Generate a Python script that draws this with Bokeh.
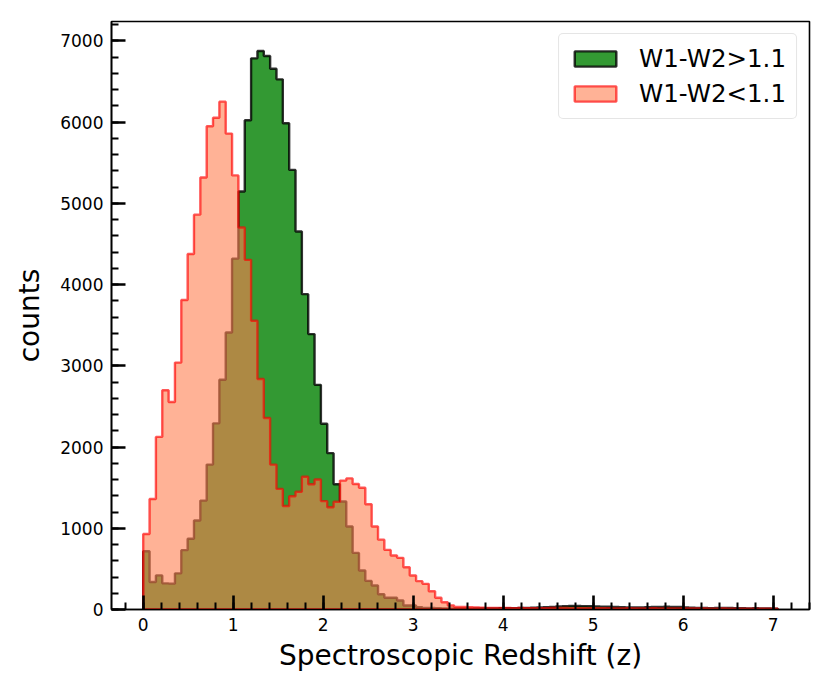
import numpy as np
from bokeh.plotting import figure
from bokeh.models import SingleIntervalTicker, Range1d, Legend
from bokeh.embed import file_html
from bokeh.resources import INLINE

# ---- data (histogram counts, 100 bins from z=0 to z=7.05) ----
z_min = 0.0
z_max = 7.05
n_bins = 100

counts_red = [  # W1-W2>1.1
    717, 338, 420, 322, 318, 445, 731, 871, 1096, 1341,
    1784, 2292, 2829, 3411, 4320, 5146, 6024, 6786, 6877, 6815,
    6659, 6528, 5987, 5413, 4654, 3883, 3391, 2766, 2288, 1925,
    1542, 1330, 1022, 697, 480, 352, 295, 188, 144, 144,
    111, 49, 49, 29, 20, 18, 15, 14, 12, 12,
    12, 11, 12, 12, 13, 14, 15, 16, 17, 18,
    20, 22, 24, 28, 32, 38, 42, 45, 44, 42,
    40, 38, 35, 33, 30, 28, 26, 25, 25, 27,
    30, 32, 33, 32, 30, 26, 22, 20, 18, 17,
    18, 20, 18, 16, 15, 14, 15, 14, 12, 10,
]

counts_blue = [  # W1-W2<1.1
    930, 1360, 2125, 2700, 2555, 3040, 3810, 4377, 4862, 5320,
    5950, 6055, 6253, 5860, 5345, 4703, 4305, 3555, 2838, 2358,
    1784, 1485, 1275, 1395, 1450, 1635, 1542, 1600, 1335, 1259,
    1327, 1587, 1614, 1546, 1500, 1296, 1022, 860, 734, 664,
    636, 520, 418, 349, 316, 225, 144, 90, 49, 32,
    30, 27, 24, 22, 20, 19, 18, 18, 17, 18,
    17, 16, 16, 17, 18, 19, 18, 17, 16, 16,
    15, 15, 16, 15, 14, 14, 15, 14, 13, 14,
    15, 14, 13, 12, 13, 12, 12, 13, 12, 11,
    11, 12, 11, 10, 11, 10, 10, 11, 10, 9,
]

label_red = "W1-W2>1.1"
label_blue = "W1-W2<1.1"
x_label = "Spectroscopic Redshift (z)"
y_label = "counts"

edges = np.linspace(z_min, z_max, n_bins + 1)


def step_polygon(edges, counts):
    xs = [edges[0]]
    ys = [0]
    for i, c in enumerate(counts):
        xs += [edges[i], edges[i + 1]]
        ys += [c, c]
    xs.append(edges[-1])
    ys.append(0)
    return xs, ys


FONT = "DejaVu Sans"

p = figure(
    width=822, height=684,
    output_backend="svg", toolbar_location=None,
    x_range=Range1d(-0.3525, 7.4025), y_range=Range1d(0, 7240),
    min_border_left=111, min_border_right=13,
    min_border_top=21, min_border_bottom=75,
)
p.background_fill_color = "white"
p.border_fill_color = "white"
p.outline_line_color = "black"
p.outline_line_width = 1.6
p.xgrid.visible = False
p.ygrid.visible = False

gx, gy = step_polygon(edges, counts_red)
r1 = p.patch(gx, gy, fill_color="green", fill_alpha=0.8,
             line_color="black", line_alpha=0.8, line_width=2.4)
sx, sy = step_polygon(edges, counts_blue)
r2 = p.patch(sx, sy, fill_color="coral", fill_alpha=0.6,
             line_color="red", line_alpha=0.65, line_width=2.4)

legend = Legend(items=[(label_red, [r1]), (label_blue, [r2])],
                location="top_right")
legend.margin = 12
legend.padding = 10
legend.spacing = 6
legend.glyph_width = 52
legend.glyph_height = 19
legend.label_height = 26
legend.label_standoff = 18
legend.label_text_font = FONT
legend.label_text_font_size = "24.5px"
legend.label_text_color = "black"
legend.border_line_color = "#cccccc"
legend.border_line_width = 1.5
legend.background_fill_color = "white"
legend.background_fill_alpha = 0.8
if "border_radius" in Legend.properties():
    legend.border_radius = 5
p.add_layout(legend)

for ax, interval in ((p.xaxis, 1), (p.yaxis, 1000)):
    ax.ticker = SingleIntervalTicker(interval=interval, num_minor_ticks=5)
    ax.axis_line_color = "black"
    ax.axis_line_width = 1.6
    ax.major_tick_in = 14
    ax.major_tick_out = 0
    ax.minor_tick_in = 7
    ax.minor_tick_out = 0
    ax.major_tick_line_width = 2.6
    ax.minor_tick_line_width = 2
    ax.major_tick_line_color = "black"
    ax.minor_tick_line_color = "black"
    ax.major_label_text_font = FONT
    ax.major_label_text_font_size = "17px"
    ax.major_label_text_color = "black"
    ax.major_label_standoff = 8
    ax.axis_label_text_font = FONT
    ax.axis_label_text_font_size = "28px"
    ax.axis_label_text_font_style = "normal"
    ax.axis_label_text_color = "black"

p.xaxis.axis_label = x_label
p.yaxis.axis_label = y_label
p.xaxis.axis_label_standoff = 5
p.yaxis.axis_label_standoff = 11

open("out.html", "w").write(file_html(p, INLINE))
